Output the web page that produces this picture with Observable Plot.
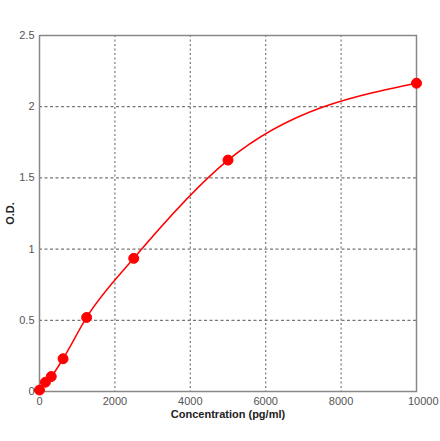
<!DOCTYPE html>
<html>
<head>
<meta charset="utf-8">
<script src="https://cdn.jsdelivr.net/npm/d3@7"></script>
<script src="https://cdn.jsdelivr.net/npm/@observablehq/plot@0.6"></script>
<style>
  html, body { margin: 0; padding: 0; background: #fff; }
  svg { display: block; }
</style>
</head>
<body>
<div id="chart"></div>
<script>
const concentration = [0, 156, 312, 625, 1250, 2500, 5000, 10000];
const od = [0.01, 0.065, 0.105, 0.23, 0.52, 0.935, 1.625, 2.165];
const xTicks = [0, 2000, 4000, 6000, 8000];
const xLastTick = [10000];
const yTicks = [0, 0.5, 1, 1.5, 2, 2.5];
const xGrid = [2000, 4000, 6000, 8000];
const yGrid = [0.5, 1, 1.5, 2];

const data = concentration.map((c, i) => ({x: c, y: od[i]}));

const chart = Plot.plot({
  width: 440,
  height: 441,
  marginLeft: 39,
  marginRight: 24,
  marginTop: 35,
  marginBottom: 50,
  style: {fontFamily: "Liberation Sans, Arial, sans-serif", background: "#fff", overflow: "hidden"},
  x: {domain: [0, 10000], axis: null},
  y: {domain: [0, 2.5], axis: null},
  marks: [
    Plot.ruleX(xGrid, {stroke: "#777", strokeWidth: 1.2, strokeDasharray: "2,2.5"}),
    Plot.ruleY(yGrid, {stroke: "#777", strokeWidth: 1.2, strokeDasharray: "3,2.5"}),
    Plot.frame({stroke: "#888", strokeWidth: 1.5}),
    Plot.line(data, {x: "x", y: "y", stroke: "#ff0000", strokeWidth: 1.5, curve: "monotone-x"}),
    Plot.dot(data, {x: "x", y: "y", r: 5, fill: "#ff0000", stroke: "#ff0000", strokeWidth: 1}),
    Plot.text(yTicks, {x: 0, y: d => d, text: d => String(d), textAnchor: "end", dx: -5, fill: "#555", fontSize: 11}),
    Plot.text(xTicks, {x: d => d, y: 0, text: d => String(d), dy: 10, fill: "#555", fontSize: 11}),
    Plot.text(xLastTick, {x: d => d, y: 0, text: d => String(d), textAnchor: "end", dx: 22, dy: 10, fill: "#555", fontSize: 11}),
    Plot.text(["Concentration (pg/ml)"], {x: 5000, y: 0, text: d => d, dy: 23, fontWeight: "bold", fill: "#222", fontSize: 11}),
    Plot.text(["O.D."], {x: 0, y: 1.25, text: d => d, dx: -29, rotate: -90, fontWeight: "bold", fill: "#222", fontSize: 11})
  ]
});
document.getElementById("chart").appendChild(chart);
</script>
</body>
</html>
